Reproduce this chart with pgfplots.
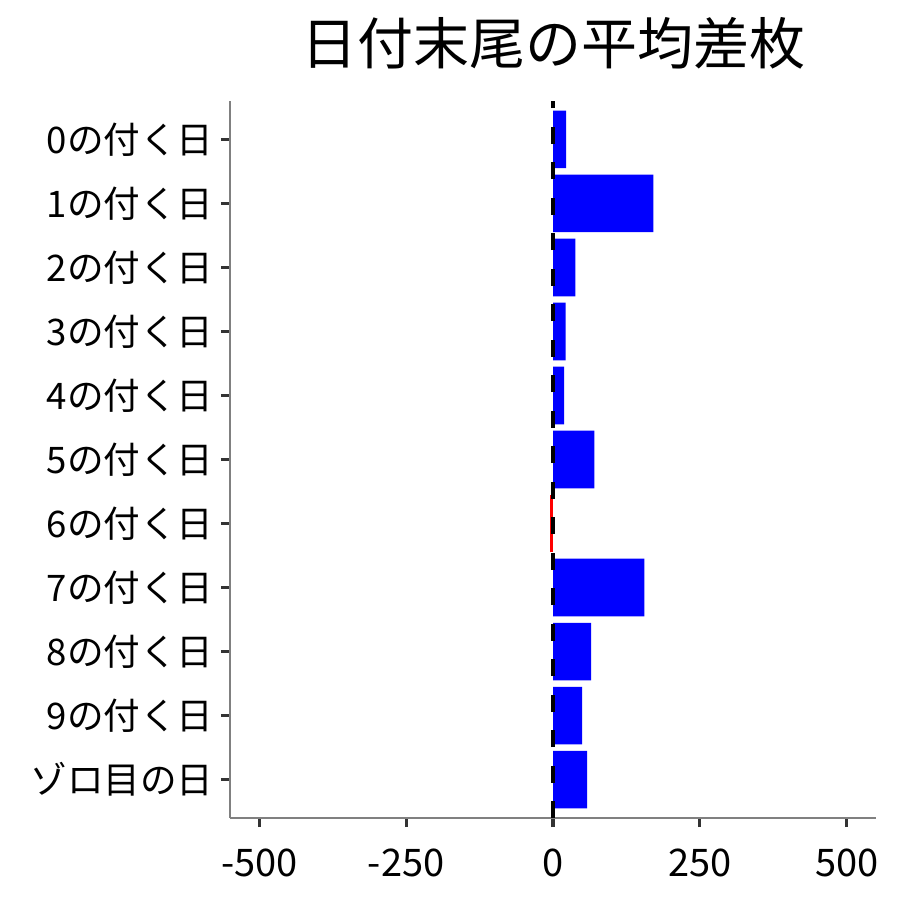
\documentclass[border=0pt]{standalone}
\usepackage{pgfplots}
\pgfplotsset{compat=1.18}
\usepackage{fontspec}
\setmainfont{Noto Sans CJK JP}
\definecolor{tickgray}{HTML}{333333}
\definecolor{linegray}{HTML}{808080}
\begin{document}
\begin{tikzpicture}
    % page = 900x900 px at 0.5pt per px
    \useasboundingbox (-115pt,-41pt) rectangle (335pt,409pt);
    \begin{axis}[
        at={(0,0)}, anchor=south west,
        scale only axis,
        width=323pt,
        height=358.5pt,
        axis x line*=bottom,
        axis y line*=left,
        axis line style={-, draw=linegray, line width=1pt},
        xmin=-550, xmax=550,
        ymin=-0.6, ymax=10.6,
        y dir=reverse,
        enlargelimits=false,
        xtick={-500,-250,0,250,500},
        xticklabels={-500,-250,0,250,500},
        ytick={0,1,2,3,4,5,6,7,8,9,10},
        yticklabels={0の付く日,1の付く日,2の付く日,3の付く日,4の付く日,5の付く日,6の付く日,7の付く日,8の付く日,9の付く日,ゾロ目の日},
        tick align=outside,
        major tick length=4.5pt,
        tick style={draw=tickgray, line width=1.6pt},
        xticklabel style={font=\fontsize{19}{22}\selectfont, anchor=base, inner sep=0pt, yshift=-24.5pt},
        yticklabel style={font=\fontsize{18.3}{21}\selectfont, anchor=base east, inner sep=0pt, xshift=-3.5pt, yshift=-7pt},
        clip=false,
    ]
        \addplot[xbar, bar width=0.9, bar shift=0pt, fill=blue, draw=none] coordinates {
            (22.4,0)
            (170.9,1)
            (38.3,2)
            (21.3,3)
            (19.0,4)
            (70.6,5)
            (155.6,7)
            (65.0,8)
            (49.7,9)
            (58.2,10)
        };
        \addplot[xbar, bar width=0.9, bar shift=0pt, fill=red, draw=none] coordinates {
            (-4.5,6)
        };
        \draw[black, line width=2pt, dash pattern=on 8.5pt off 9.25pt] (axis cs:0,10.6) -- (axis cs:0,-0.6);
        \node[anchor=base, font=\fontsize{28}{32}\selectfont, inner sep=0pt] at (rel axis cs:0.5,1) [yshift=18.5pt] {日付末尾の平均差枚};
    \end{axis}
\end{tikzpicture}
\end{document}
